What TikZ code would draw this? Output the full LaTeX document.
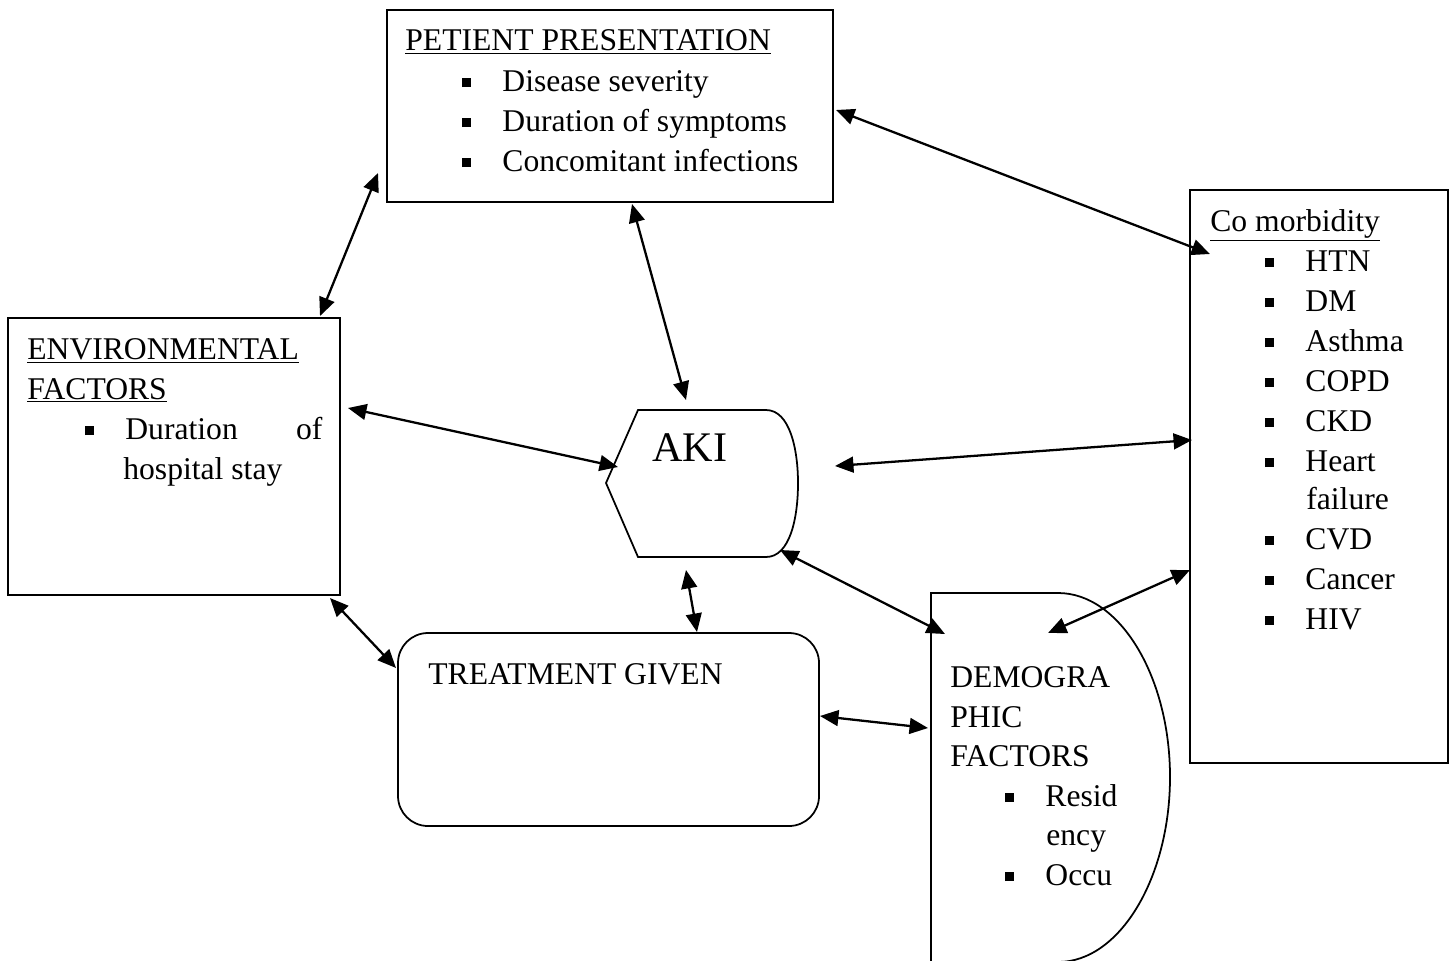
\documentclass[tikz,border=0pt]{standalone}
\usepackage{fontspec}
\setmainfont{Liberation Serif}
\usetikzlibrary{arrows.meta}

% square bullet of a list line
\newcommand{\itm}[1]{\makebox[22.8pt][l]{\rule[2.2pt]{5pt}{5pt}}#1}

\begin{document}
\begin{tikzpicture}[x=0.02cm, y=-0.02cm,
        every node/.style={font=\fontsize{18}{22}\selectfont, inner sep=0pt},
        txt/.style={anchor=base west},
        shp/.style={line width=1pt},
        link/.style={line width=1.3pt, {Triangle[length=10.5pt,width=9pt]}-{Triangle[length=10.5pt,width=9pt]}}]

        \useasboundingbox (0,0) rectangle (1453,960);

        % Boxes
        \draw[shp] (387,10) rectangle (833,202);
        \draw[shp] (8,318) rectangle (340,595);
        \draw[shp] (1190,190) rectangle (1448,763);
        \draw[shp, rounded corners=0.6cm] (398,633) rectangle (819,826);
        \draw[shp] (638,410) -- (766,410) .. controls (790,410) and (798,450) .. (798,483)
                .. controls (798,518) and (790,557) .. (766,557) -- (638,557) -- (606,483) -- cycle;
        \draw[shp] (931,975) -- (931,593) -- (1058,593) .. controls (1120,593) and (1170,677) .. (1170,777)
                .. controls (1170,877) and (1120,962) .. (1058,962) -- (931,962);

        % Patient presentation
        \node[txt] (pt) at (405,51) {\underline{PETIENT PRESENTATION}};
        \node[txt] (pt1) at (462,91) {\itm{Disease severity}};
        \node[txt] (pt2) at (462,131) {\itm{Duration of symptoms}};
        \node[txt] (pt3) at (462,171) {\itm{Concomitant infections}};

        % Environmental factors
        \node[txt] (env) at (27,359) {\underline{ENVIRONMENTAL}};
        \node[txt] (env0) at (27,399) {\underline{FACTORS}};
        \node[txt] (env1) at (85,439) {\itm{\makebox[3.94cm][l]{Duration\hfill of}}};
        \node[txt] (env2) at (123,479) {hospital stay};

        % AKI
        \node[txt, font=\fontsize{24}{28}\selectfont] (aki) at (652,461) {AKI};

        % Treatment
        \node[txt] (trt) at (428,684) {TREATMENT GIVEN};

        % Demographic factors
        \node[txt] (dem) at (950,687) {DEMOGRA};
        \node[txt] (dem0) at (950,727) {PHIC};
        \node[txt] (dem1) at (950,766) {FACTORS};
        \node[txt] (dem2) at (1005,806) {\itm{Resid}};
        \node[txt] (dem3) at (1046,845) {ency};
        \node[txt] (dem4) at (1005,885) {\itm{Occu}};

        % Co morbidity
        \node[txt] (com) at (1210,231) {\underline{Co morbidity}};
        \foreach \lbl/\yy in {HTN/271, DM/311, Asthma/351, COPD/391, CKD/431, Heart/471, CVD/549, Cancer/589, HIV/629}
            \node[txt] (com-\lbl) at (1265,\yy) {\itm{\lbl}};
        \node[txt] (com-f) at (1306,509) {failure};

        % Arrow ends
        \coordinate (a1) at (378,173);  \coordinate (b1) at (320,316);
        \coordinate (a2) at (632,204);  \coordinate (b2) at (686,400);
        \coordinate (a3) at (836,110);  \coordinate (b3) at (1210,254);
        \coordinate (a4) at (348,408);  \coordinate (b4) at (618,467);
        \coordinate (a5) at (835,466);  \coordinate (b5) at (1192,440);
        \coordinate (a6) at (330,598);  \coordinate (b6) at (396,668);
        \coordinate (a7) at (686,570);  \coordinate (b7) at (697,632);
        \coordinate (a8) at (780,550);  \coordinate (b8) at (945,634);
        \coordinate (a9) at (820,716);  \coordinate (b9) at (928,728);
        \coordinate (a10) at (1190,570); \coordinate (b10) at (1048,633);

        % Links
        \foreach \i in {1,...,10}
            \draw[link] (a\i) -- (b\i);
    \end{tikzpicture}
\end{document}
